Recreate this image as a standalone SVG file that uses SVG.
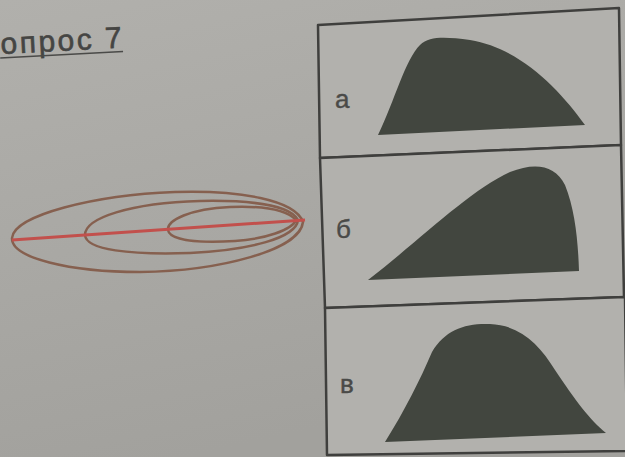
<svg xmlns="http://www.w3.org/2000/svg" width="625" height="457" viewBox="0 0 625 457">
<defs>
<linearGradient id="bg" x1="0" y1="0" x2="0.3" y2="1">
<stop offset="0" stop-color="#b1b0ac"/>
<stop offset="1" stop-color="#a2a19d"/>
</linearGradient>
<style>
.lbl{font-family:"Liberation Sans",Arial,sans-serif;font-size:26px;fill:#4a4a48;stroke:#4a4a48;stroke-width:0.4}
.ttl{font-family:"Liberation Sans",Arial,sans-serif;font-size:30px;fill:#454543;stroke:#454543;stroke-width:0.6;letter-spacing:2.5px}
.box{fill:#b2b1ad;stroke:#3f3f3d;stroke-width:2.5;stroke-linejoin:round}
.blob{fill:#42463f}
.ell{fill:none;stroke:#86604f;stroke-width:2.5}
</style>
</defs>
<rect width="625" height="457" fill="url(#bg)"/>
<g id="title" transform="rotate(-3 0 54)">
<text class="ttl" x="1" y="54">опрос 7</text>
<line x1="0" y1="58" x2="123" y2="58" stroke="#4a4a48" stroke-width="1.5"/>
</g>
<g id="ellipses">
<path class="ell" d="M303,222 C295,200 240,190 175,192 C95,195 14,215 12,238 C11,258 70,272 140,272 C220,271 300,250 303,222 Z"/>
<path class="ell" d="M298,220 C290,205 250,200 200,201 C130,203 85,218 85,235 C86,250 130,255 190,253 C250,250 296,238 298,220 Z"/>
<path class="ell" d="M296,220 C285,208 255,206 230,207 C190,209 167,220 168,230 C170,241 200,243 235,241 C265,239 292,230 296,220 Z"/>
</g>
<g id="connectors">
<line x1="12" y1="240" x2="305" y2="220" stroke="#c2504c" stroke-width="3"/>
</g>
<g id="panel-a">
<polygon class="box" points="318,25 619,8 621,145 320,158"/>
<path class="blob" d="M378,135 C395,100 405,60 420,45 C430,36 445,37 470,40 C520,48 560,90 585,125 Z"/>
<text class="lbl" x="335" y="108">а</text>
</g>
<g id="panel-b">
<polygon class="box" points="320,158 621,145 624,297 325,308"/>
<path class="blob" d="M368,280 C420,240 470,190 510,172 C535,162 555,165 565,185 C575,210 578,240 579,271 Z"/>
<text class="lbl" x="336" y="238">б</text>
</g>
<g id="panel-v">
<polygon class="box" points="325,308 625,297 627,451 327,455"/>
<path class="blob" d="M385,442 C405,410 420,380 432,352 C445,330 465,323 490,324 C520,325 540,345 555,370 C575,400 590,420 606,433 Z"/>
<text class="lbl" x="340" y="393">в</text>
</g>
</svg>
